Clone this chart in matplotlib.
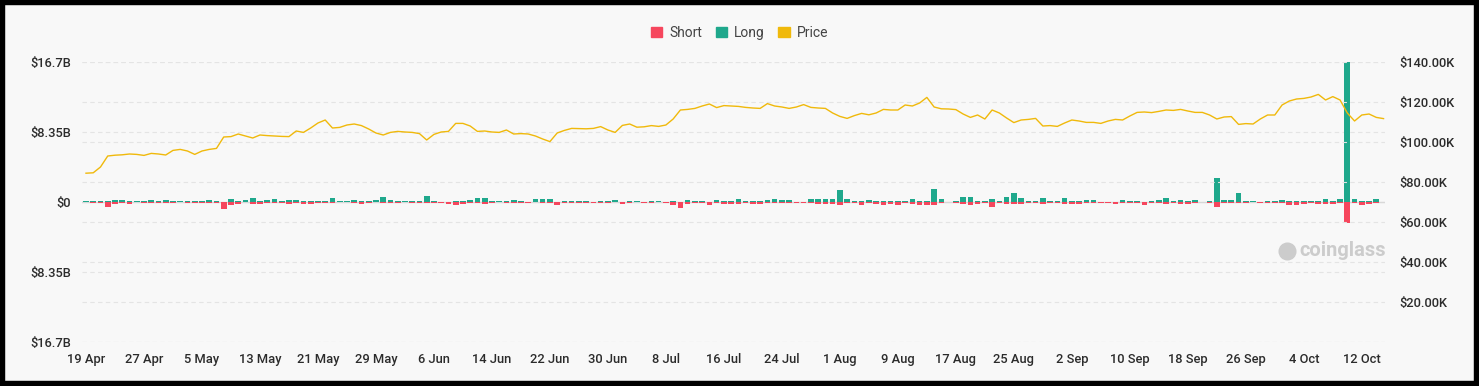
import numpy as np
import pandas as pd
import matplotlib
matplotlib.use('Agg')
import matplotlib.pyplot as plt
import matplotlib.dates as mdates
from matplotlib.patches import Patch, Rectangle

# Liquidações diárias (bilhões de USD), a partir de 19 Abr 2025
long_liq = [
    0.10, 0.12, 0.15, 0.10, 0.20, 0.18, 0.10, 0.08, 0.12, 0.25, 0.12, 0.25, 0.10, 0.08, 0.12, 0.10,
    0.15, 0.18, 0.10, 0.05, 0.30, 0.10, 0.25, 0.45, 0.15, 0.25, 0.35, 0.15, 0.25, 0.18, 0.12, 0.15,
    0.12, 0.10, 0.50, 0.12, 0.12, 0.20, 0.10, 0.15, 0.25, 0.60, 0.20, 0.10, 0.08, 0.10, 0.15, 0.75,
    0.08, 0.05, 0.05, 0.08, 0.15, 0.25, 0.45, 0.45, 0.12, 0.15, 0.10, 0.25, 0.12, 0.05, 0.30, 0.40,
    0.35, 0.05, 0.10, 0.10, 0.10, 0.08, 0.05, 0.08, 0.10, 0.20, 0.05, 0.10, 0.15, 0.05, 0.10, 0.12,
    0.05, 0.08, 0.05, 0.25, 0.10, 0.10, 0.05, 0.25, 0.15, 0.15, 0.40, 0.10, 0.10, 0.15, 0.20, 0.40,
    0.25, 0.25, 0.05, 0.05, 0.30, 0.30, 0.40, 0.30, 1.40, 0.30, 0.10, 0.12, 0.25, 0.10, 0.15, 0.12,
    0.10, 0.15, 0.40, 0.15, 0.15, 1.55, 0.35, 0.05, 0.10, 0.60, 0.60, 0.10, 0.15, 0.30, 0.10, 0.55,
    1.10, 0.45, 0.15, 0.15, 0.50, 0.10, 0.10, 0.45, 0.15, 0.10, 0.25, 0.20, 0.05, 0.05, 0.05, 0.20,
    0.12, 0.12, 0.05, 0.15, 0.20, 0.45, 0.10, 0.25, 0.08, 0.25, 0.05, 0.10, 2.85, 0.25, 0.25, 1.05,
    0.10, 0.08, 0.05, 0.10, 0.12, 0.20, 0.12, 0.15, 0.10, 0.08, 0.10, 0.35, 0.15, 0.35, 16.7, 0.35,
    0.15, 0.15, 0.40,
]
short_liq = [
    0.05, 0.08, 0.15, 0.55, 0.20, 0.12, 0.20, 0.05, 0.08, 0.12, 0.10, 0.15, 0.15, 0.05, 0.08, 0.10,
    0.10, 0.08, 0.15, 0.85, 0.30, 0.25, 0.05, 0.20, 0.25, 0.10, 0.10, 0.08, 0.20, 0.10, 0.25, 0.20,
    0.10, 0.08, 0.10, 0.05, 0.05, 0.08, 0.20, 0.10, 0.05, 0.10, 0.10, 0.08, 0.05, 0.08, 0.10, 0.10,
    0.15, 0.10, 0.25, 0.30, 0.20, 0.12, 0.15, 0.25, 0.10, 0.05, 0.15, 0.10, 0.10, 0.08, 0.05, 0.10,
    0.10, 0.30, 0.10, 0.10, 0.10, 0.15, 0.10, 0.15, 0.10, 0.05, 0.20, 0.15, 0.05, 0.10, 0.15, 0.05,
    0.10, 0.35, 0.75, 0.25, 0.10, 0.15, 0.40, 0.15, 0.25, 0.20, 0.25, 0.10, 0.25, 0.20, 0.15, 0.15,
    0.15, 0.10, 0.15, 0.10, 0.15, 0.20, 0.20, 0.25, 0.30, 0.10, 0.08, 0.30, 0.15, 0.20, 0.30, 0.25,
    0.35, 0.15, 0.25, 0.30, 0.30, 0.35, 0.10, 0.05, 0.15, 0.25, 0.30, 0.25, 0.10, 0.65, 0.15, 0.25,
    0.25, 0.20, 0.15, 0.15, 0.20, 0.10, 0.10, 0.25, 0.25, 0.20, 0.15, 0.15, 0.10, 0.10, 0.25, 0.15,
    0.15, 0.15, 0.35, 0.15, 0.15, 0.20, 0.10, 0.25, 0.20, 0.10, 0.05, 0.10, 0.60, 0.10, 0.10, 0.10,
    0.10, 0.05, 0.15, 0.15, 0.15, 0.15, 0.30, 0.30, 0.25, 0.10, 0.25, 0.20, 0.20, 0.15, 2.45, 0.15,
    0.35, 0.20, 0.15,
]
# Preço do BTC (milhares de USD)
price = [
    84.4, 84.6, 87.5, 93.0, 93.4, 93.6, 94.0, 93.8, 93.3, 94.3, 94.0, 93.5, 95.8, 96.3, 95.5, 93.8,
    95.5, 96.3, 96.8, 102.5, 102.7, 104.0, 103.0, 102.0, 103.5, 103.2, 103.0, 102.8, 102.7, 105.5, 104.8, 107.0,
    109.5, 111.0, 107.0, 107.3, 108.5, 109.0, 108.2, 106.5, 104.5, 103.5, 104.8, 105.3, 105.0, 104.8, 104.2, 101.0,
    103.8, 105.0, 105.3, 109.3, 109.3, 108.0, 105.3, 105.5, 105.0, 104.8, 106.0, 104.0, 104.2, 104.0, 103.0, 101.5,
    100.2, 104.5, 105.8, 106.8, 106.7, 106.6, 106.8, 107.7, 106.0, 104.8, 108.3, 109.0, 107.4, 107.6, 108.2, 107.8,
    108.5, 111.5, 116.0, 116.3, 116.8, 118.0, 119.0, 117.2, 118.2, 118.0, 117.8, 117.3, 117.0, 116.8, 119.2, 118.0,
    117.5, 116.8, 117.5, 118.7, 117.3, 117.0, 116.8, 114.5, 112.8, 111.8, 113.2, 114.3, 113.6, 114.5, 116.3, 116.0,
    116.0, 118.5, 118.0, 119.5, 122.3, 117.5, 116.6, 116.5, 116.2, 114.0, 112.3, 113.5, 111.5, 116.0, 114.5, 112.0,
    109.7, 111.0, 111.3, 111.8, 108.0, 108.2, 107.8, 109.5, 111.0, 110.5, 109.8, 109.8, 109.3, 110.5, 111.3, 111.0,
    113.0, 114.8, 115.0, 114.7, 115.3, 116.0, 115.8, 116.3, 115.5, 114.8, 114.8, 113.5, 111.5, 112.5, 112.7, 108.8,
    109.2, 109.0, 111.5, 113.5, 113.5, 118.5, 120.5, 121.5, 121.8, 122.5, 123.8, 121.0, 122.7, 121.0, 114.5, 110.5,
    113.5, 114.0, 112.3, 111.7,
]

start = pd.Timestamp('2025-04-19')
bar_dates = pd.date_range(start, periods=len(long_liq), freq='D')
price_dates = pd.date_range(start, periods=len(price), freq='D')
tick_dates = pd.date_range(start, '2025-10-12', freq='8D')

red = '#f6465d'
green = '#1fa88c'
yellow = '#f0b90b'
bg = '#f8f8f8'

plt.rcParams['font.family'] = ['Roboto', 'DejaVu Sans']

fig = plt.figure(figsize=(14.79, 3.86), dpi=100, facecolor=bg)
ax = fig.add_axes([82 / 1479, 1 - 342 / 386, 1303 / 1479, 280 / 386], facecolor=bg)
ax2 = ax.twinx()

x = mdates.date2num(bar_dates)
ax.bar(x, long_liq, width=0.78, color=green, zorder=3)
ax.bar(x, -np.array(short_liq), width=0.78, color=red, zorder=3)
ax.axhline(0, color='#d8d8d8', lw=1, zorder=2)

ax2.plot(mdates.date2num(price_dates), np.array(price) * 1000, color=yellow, lw=1.0, zorder=4)

x0 = mdates.date2num(start)
ax.set_xlim(x0 - 0.55, x0 + 179.2)
ax.set_ylim(-16.7, 16.7)
ax2.set_ylim(0, 140000)

ax.set_yticks([-16.7, -8.35, 0, 8.35, 16.7])
ax.set_yticklabels(['$16.7B', '$8.35B', '$0', '$8.35B', '$16.7B'])
ax2.set_yticks(range(0, 140001, 20000))
ax2.set_yticklabels([''] + [f'${v}.00K' for v in range(20, 141, 20)])

ax.set_xticks(mdates.date2num(tick_dates))
ax.set_xticklabels([f'{d.day} {d.strftime("%b")}' for d in tick_dates])

for a in (ax, ax2):
    for s in a.spines.values():
        s.set_visible(False)
    a.tick_params(length=0, labelsize=9.3, labelcolor='#2b2b2b')
    a.grid(axis='y', color='#e4e4e4', ls=(0, (4, 3)), lw=0.8, zorder=0)
    for lbl in a.get_xticklabels() + a.get_yticklabels():
        lbl.set_fontweight('medium')
ax.tick_params(axis='y', pad=8)
ax.tick_params(axis='x', pad=8)
ax2.tick_params(axis='y', pad=10)
ax.set_axisbelow(True)

# Marca d'água (coordenadas em pixels, origem embaixo)
ax2.text(1386, 386 - 251, 'coinglass', transform=None, fontsize=14.5, fontweight='bold',
         color='#cccccc', ha='right', va='center', zorder=1)
ax2.plot([1287], [386 - 251], transform=None, marker='o', ms=12, color='#cccccc', zorder=1)

handles = [Patch(color=red, label='Short'), Patch(color=green, label='Long'),
           Patch(color=yellow, label='Price')]
leg = fig.legend(handles=handles, loc='center', bbox_to_anchor=(0.5, 1 - 33 / 386), ncol=3,
                 frameon=False, handlelength=0.8, handleheight=0.8, handletextpad=0.5,
                 columnspacing=1.0, fontsize=10)
for t in leg.get_texts():
    t.set_color('#444444')

fig.add_artist(Rectangle((0, 0), 1, 1, transform=fig.transFigure, fill=False,
                         edgecolor='black', lw=7.5))

fig.savefig('out.png', dpi=100, facecolor=bg)
